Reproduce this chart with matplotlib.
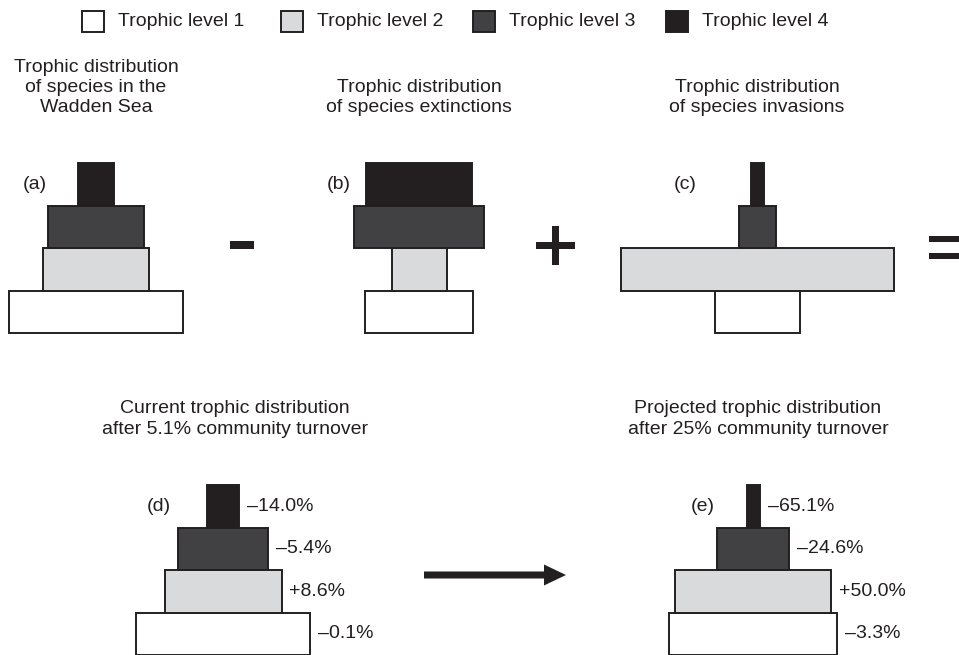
import numpy as np
import matplotlib
matplotlib.use('Agg')
import matplotlib.pyplot as plt
from matplotlib.patches import Rectangle, FancyArrow

plt.rcParams['font.family'] = ['Liberation Sans', 'DejaVu Sans']

# trophic levels, bottom to top
levels = ['Trophic level 1', 'Trophic level 2', 'Trophic level 3', 'Trophic level 4']
colors = ['#ffffff', '#d9dadb', '#414143', '#231f20']
edge = '#231f20'

# relative widths of each level
wadden = [174, 106, 96, 36]        # (a)
extinct = [108, 55, 130, 106]      # (b)
invade = [85, 273, 37, 13]         # (c)
current = [174, 117, 90, 32]       # (d)
projected = [168, 156, 72, 13]     # (e)

current_labels = ['\u20130.1%', '+8.6%', '\u20135.4%', '\u201314.0%']
projected_labels = ['\u20133.3%', '+50.0%', '\u201324.6%', '\u201365.1%']

fig = plt.figure(figsize=(9.59, 6.55), dpi=100)
ax = fig.add_axes([0, 0, 1, 1])
ax.set_xlim(0, 959)
ax.set_ylim(655, 0)
ax.axis('off')

row_h = 42.5
fs = 14


def pyramid(cx, bottom, widths, tag, tag_x, labels=None, lab_gap=8):
    ys = bottom - row_h / 2 - row_h * np.arange(4)
    w = np.array(widths, dtype=float)
    ax.barh(ys, w, left=cx - w / 2, height=row_h, color=colors,
            edgecolor=edge, linewidth=1.4)
    ax.text(tag_x, ys[3], tag, fontsize=fs, ha='left', va='center', color='#231f20')
    if labels is not None:
        for y, wi, lab in zip(ys, w, labels):
            ax.text(cx + wi / 2 + lab_gap, y, lab, fontsize=fs, ha='left',
                    va='center', color='#231f20')


def title(cx, lines, y_last, step=20.5):
    n = len(lines)
    for i, line in enumerate(lines):
        ax.text(cx, y_last - step * (n - 1 - i), line, fontsize=fs, ha='center',
                va='center', color='#231f20')


# top row
pyramid(96, 333, wadden, '(a)', 23)
pyramid(419, 333, extinct, '(b)', 327)
pyramid(757, 333, invade, '(c)', 674)
title(96, ['Trophic distribution', 'of species in the', 'Wadden Sea'], 108)
title(419, ['Trophic distribution', 'of species extinctions'], 108)
title(757, ['Trophic distribution', 'of species invasions'], 108)

# operators
ax.add_patch(Rectangle((230, 241), 24, 8, color='#231f20', lw=0))
ax.add_patch(Rectangle((536, 242), 39, 7, color='#231f20', lw=0))
ax.add_patch(Rectangle((552, 226), 7, 39, color='#231f20', lw=0))
ax.add_patch(Rectangle((929, 236), 30, 6, color='#231f20', lw=0))
ax.add_patch(Rectangle((929, 253), 30, 6, color='#231f20', lw=0))

# bottom row
pyramid(223, 655, current, '(d)', 147, current_labels)
pyramid(753, 655, projected, '(e)', 691, projected_labels)
title(235, ['Current trophic distribution', 'after 5.1% community turnover'], 429)
title(758, ['Projected trophic distribution', 'after 25% community turnover'], 429)

ax.add_patch(FancyArrow(424, 575, 142, 0, width=7, head_width=21, head_length=22,
                        length_includes_head=True, color='#231f20', lw=0))

# legend
box_x = [82, 281, 473, 666]
for bx, c, lab in zip(box_x, colors, levels):
    ax.add_patch(Rectangle((bx, 11), 22, 21, facecolor=c, edgecolor=edge, lw=1.4))
    ax.text(bx + 36, 22, lab, fontsize=fs, ha='left', va='center', color='#231f20')

fig.savefig('out.png', dpi=100)
